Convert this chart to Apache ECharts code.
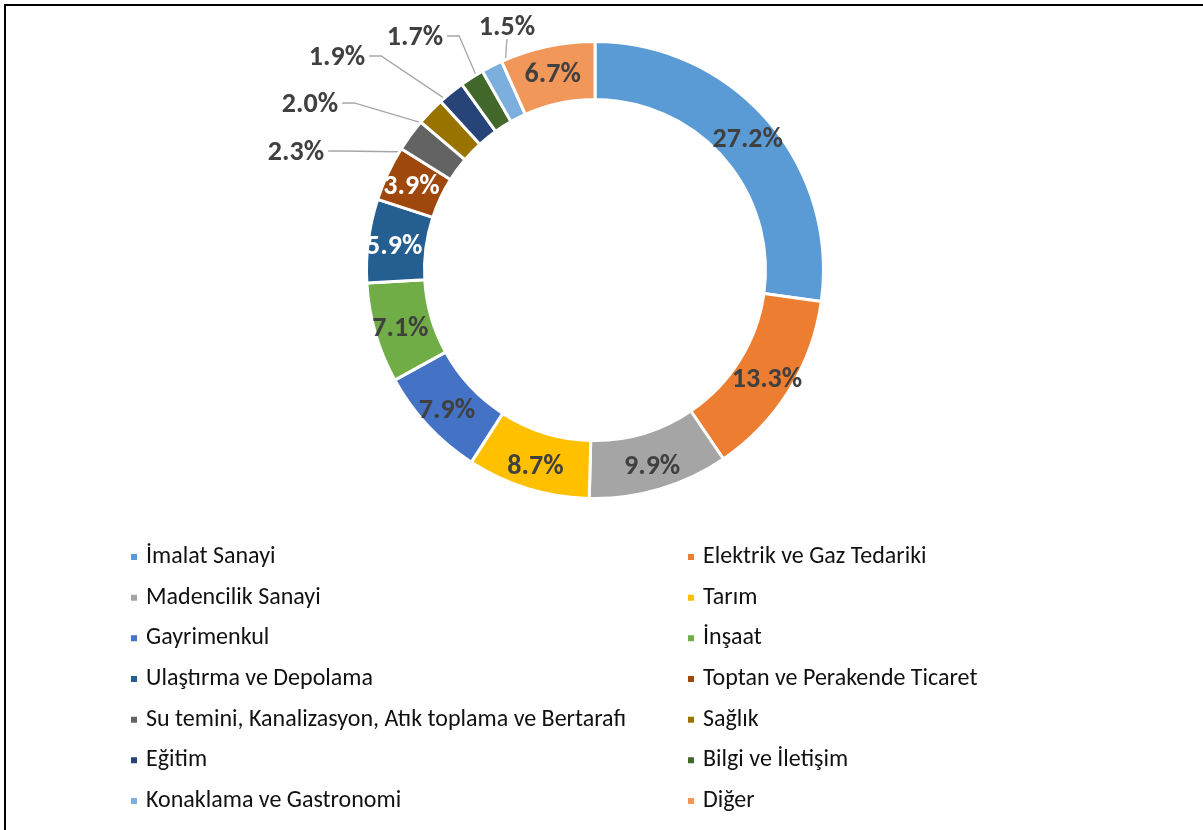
<!DOCTYPE html>
<html>
<head>
<meta charset="utf-8">
<script src="https://cdn.jsdelivr.net/npm/echarts@6/dist/echarts.min.js"></script>
<style>
  html, body { margin: 0; padding: 0; background: #fff; }
  #chart { width: 1203px; height: 830px; }
  #frame {
    position: absolute; left: 4px; top: 4px; right: 0; bottom: 0;
    border-top: 2px solid #000; border-left: 2px solid #000;
    pointer-events: none;
  }
</style>
</head>
<body>
<div id="chart"></div>
<div id="frame"></div>
<script>
const sectors = [
  "İmalat Sanayi",
  "Elektrik ve Gaz Tedariki",
  "Madencilik Sanayi",
  "Tarım",
  "Gayrimenkul",
  "İnşaat",
  "Ulaştırma ve Depolama",
  "Toptan ve Perakende Ticaret",
  "Su temini, Kanalizasyon, Atık toplama ve Bertarafı",
  "Sağlık",
  "Eğitim",
  "Bilgi ve İletişim",
  "Konaklama ve Gastronomi",
  "Diğer",
];
const shares = [27.2, 13.3, 9.9, 8.7, 7.9, 7.1, 5.9, 3.9, 2.3, 2.0, 1.9, 1.7, 1.5, 6.7];
const colors = [
  "#5B9BD5", "#ED7D31", "#A5A5A5", "#FFC000", "#4472C4", "#70AD47", "#255E91",
  "#9E480E", "#636363", "#997300", "#264478", "#43682B", "#7CAFDD", "#F1975A",
];
// white text on the dark slices, callouts for the thin ones
const whiteLabels = [6, 7];
const calloutSpots = { 8: [296, 153], 9: [310, 105], 10: [337, 58], 11: [415, 38], 12: [507, 28] };

const cx = 595, cy = 270, rIn = 170.5, rOut = 228.5;
const labelFont = "Carlito, 'Liberation Sans', sans-serif";
const legendFont = "Carlito, 'Liberation Sans', sans-serif";

const total = shares.reduce((a, b) => a + b, 0);
function anchorOf(idx) {
  let before = 0;
  for (let i = 0; i < idx; i++) before += shares[i];
  const a = ((before + shares[idx] / 2) / total) * Math.PI * 2;
  const r = (rIn + rOut) / 2;
  return [cx + r * Math.sin(a), cy - r * Math.cos(a)];
}

const pieData = sectors.map((name, i) => {
  const item = { name: name, value: shares[i], itemStyle: { color: colors[i] } };
  if (calloutSpots[i]) {
    item.label = { position: "outside" };
    item.labelLine = { show: true };
  } else if (whiteLabels.includes(i)) {
    item.label = { color: "#fff" };
  }
  return item;
});

function legendColumn(left, names) {
  return {
    orient: "vertical",
    left: left,
    top: 545,
    padding: 0,
    itemWidth: 8,
    itemHeight: 8,
    itemGap: 16.67,
    icon: "rect",
    selectedMode: false,
    data: names,
    textStyle: {
      fontFamily: legendFont,
      fontSize: 24,
      color: "#111",
      lineHeight: 24,
      padding: [0, 0, 0, 3],
    },
  };
}

const chart = echarts.init(document.getElementById("chart"));

chart.setOption({
  animation: false,
  color: colors,
  legend: [
    legendColumn(129, sectors.filter((s, i) => i % 2 === 0)),
    legendColumn(686, sectors.filter((s, i) => i % 2 === 1)),
  ],
  series: [
    {
      type: "pie",
      center: [cx, cy],
      radius: [rIn, rOut],
      startAngle: 90,
      clockwise: true,
      avoidLabelOverlap: false,
      itemStyle: { borderColor: "#fff", borderWidth: 3 },
      label: {
        show: true,
        position: "inside",
        formatter: (p) => p.value.toFixed(1) + "%",
        fontFamily: labelFont,
        fontWeight: "bold",
        fontSize: 28,
        color: "#404040",
      },
      labelLine: { show: false, lineStyle: { color: "#A6A6A6", width: 1.3 } },
      labelLayout: function (params) {
        const spot = calloutSpots[params.dataIndex];
        if (!spot) return { dy: 3 };
        const w = params.labelRect.width, h = params.labelRect.height;
        const anchor = anchorOf(params.dataIndex);
        let points;
        if (params.dataIndex === 12) {
          const end = [spot[0], spot[1] + h / 2 - 3];
          points = [end, [spot[0] - 1, spot[1] + h / 2 + 8], anchor];
        } else {
          const end = [spot[0] + w / 2 + 4, spot[1] - 2];
          points = [end, [end[0] + 12, end[1]], anchor];
        }
        return {
          x: spot[0],
          y: spot[1],
          align: "center",
          verticalAlign: "middle",
          labelLinePoints: points,
        };
      },
      data: pieData,
    },
  ],
});
</script>
</body>
</html>
